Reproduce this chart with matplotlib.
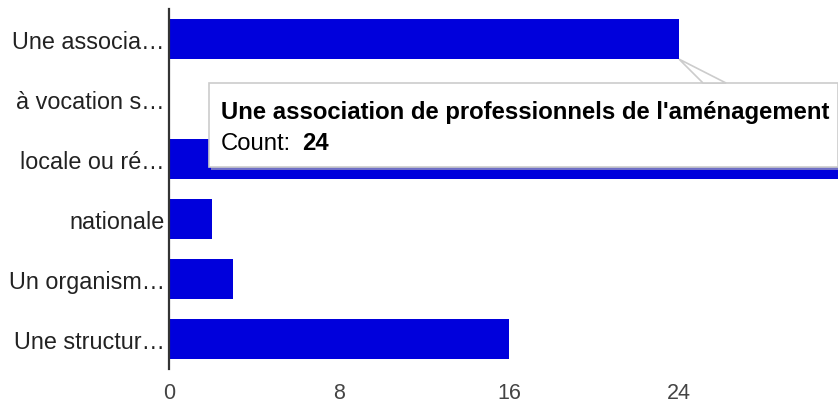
import matplotlib.pyplot as plt
from matplotlib.patches import Rectangle, Polygon

plt.rcParams['font.family'] = ['Liberation Sans', 'DejaVu Sans']

labels = ["Une associa…", "à vocation s…", "locale ou ré…",
          "nationale", "Un organism…", "Une structur…"]
counts = [24, 0, 32, 2, 3, 16]
xticks = [0, 8, 16, 24]

tip_title = "Une association de professionnels de l'aménagement"
tip_value = 24

W, H = 838, 406
fig = plt.figure(figsize=(W / 100, H / 100), dpi=100)

def fx(px):
    return px / W

def fy(py):
    return 1 - py / H

# axes placed in pixels: x from 169 to right edge, y from 10 to 370
ax = fig.add_axes([fx(169), fy(370), fx(W) - fx(169), fy(10) - fy(370)])

ypos = list(range(len(labels)))
ax.barh(ypos, counts, height=0.67, color='#0000dc', zorder=2)
ax.set_ylim(len(labels) - 0.5, -0.5)
ax.set_xlim(0, (W - 169) / 21.25)

ax.set_yticks(ypos)
ax.set_yticklabels(labels, fontsize=16.8, color='#222222')
ax.set_xticks(xticks)
ax.set_xticklabels([str(t) for t in xticks], fontsize=15.5, color='#444444')
ax.tick_params(axis='both', length=0)
ax.tick_params(axis='y', pad=3)
ax.tick_params(axis='x', pad=9.5)

for s in ['top', 'right', 'bottom']:
    ax.spines[s].set_visible(False)
ax.spines['left'].set_color('#333333')
ax.spines['left'].set_linewidth(1.6)
ax.spines['left'].set_zorder(3)

# tooltip box (pixel coordinates)
bx0, by0, bx1, by1 = 209, 84, 838, 168
shadow = Rectangle((fx(bx0 + 2), fy(by1 + 3)), fx(bx1) - fx(bx0), fy(by0) - fy(by1),
                   transform=fig.transFigure, facecolor='#b8b8b8', edgecolor='none',
                   alpha=0.6, zorder=5)
box = Rectangle((fx(bx0), fy(by1)), fx(bx1) - fx(bx0), fy(by0) - fy(by1),
                transform=fig.transFigure, facecolor='white', edgecolor='#cccccc',
                linewidth=1.2, zorder=6)
fig.patches.extend([shadow, box])

# pointer from the bar end to the box
tip = fig.transFigure.inverted().transform(ax.transData.transform((tip_value, 0.335)))
pointer = Polygon([(tip[0], tip[1]), (fx(703), fy(by0)), (fx(726), fy(by0))],
                  closed=True, transform=fig.transFigure, facecolor='white',
                  edgecolor='#cccccc', linewidth=1.2, zorder=7)
fig.patches.append(pointer)
cover = Polygon([(fx(704), fy(by0) - 0.002), (fx(725), fy(by0) - 0.002),
                 (fx(725), fy(by0 + 2)), (fx(704), fy(by0 + 2))],
                closed=True, transform=fig.transFigure, facecolor='white',
                edgecolor='none', zorder=8)
fig.patches.append(cover)

fig.text(fx(221), fy(113), tip_title, fontsize=17.2, fontweight='bold',
         color='black', va='center', ha='left', zorder=9)
fig.text(fx(221), fy(144), "Count:", fontsize=17.2, color='black',
         va='center', ha='left', zorder=9)
fig.text(fx(302), fy(144), str(tip_value), fontsize=17.2, fontweight='bold',
         color='black', va='center', ha='left', zorder=9)

fig.savefig('out.png', dpi=100)
